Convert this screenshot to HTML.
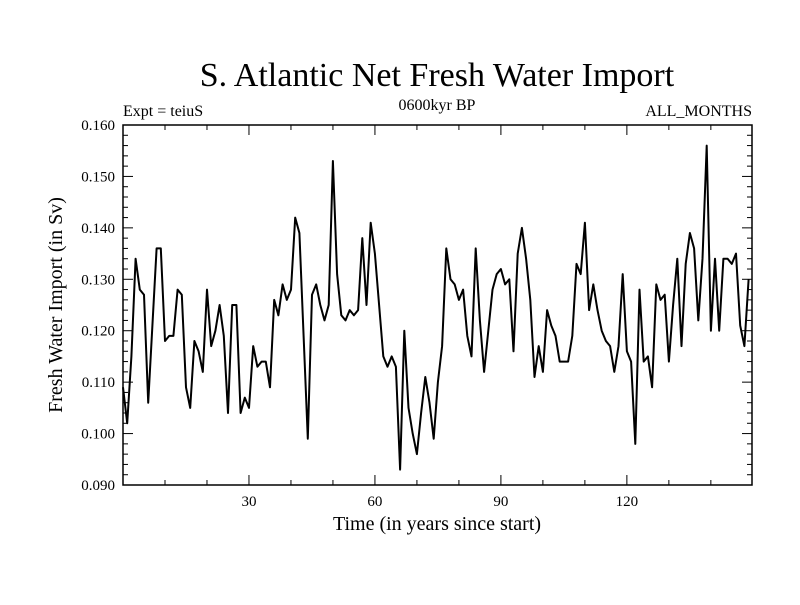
<!DOCTYPE html>
<html><head><meta charset="utf-8"><style>
body{margin:0;background:#fff}
svg text{font-family:"Liberation Serif",serif;fill:#000}
</style></head><body>
<svg id="chart" width="800" height="600" xmlns="http://www.w3.org/2000/svg">
<text x="437" y="86" font-size="34" text-anchor="middle">S. Atlantic Net Fresh Water Import</text>
<text x="123" y="116" font-size="16">Expt = teiuS</text>
<text x="437" y="110" font-size="16" text-anchor="middle">0600kyr BP</text>
<text x="752" y="116" font-size="16" text-anchor="end">ALL_MONTHS</text>
<text x="437" y="530" font-size="20" text-anchor="middle">Time (in years since start)</text>
<text transform="translate(62,305) rotate(-90)" font-size="20" text-anchor="middle">Fresh Water Import (in Sv)</text>
<g id="axes"></g>
<path id="series" fill="none" stroke="#000" stroke-width="2" stroke-linejoin="round"/>
<rect x="123" y="125" width="629" height="360" fill="none" stroke="#000" stroke-width="1.5"/>
</svg>
<script>
const values=[0.109,0.102,0.115,0.134,0.128,0.127,0.106,0.121,0.136,0.136,0.118,0.119,0.119,0.128,0.127,0.109,0.105,0.118,0.116,0.112,0.128,0.117,0.120,0.125,0.119,0.104,0.125,0.125,0.104,0.107,0.105,0.117,0.113,0.114,0.114,0.109,0.126,0.123,0.129,0.126,0.128,0.142,0.139,0.119,0.099,0.127,0.129,0.125,0.122,0.125,0.153,0.131,0.123,0.122,0.124,0.123,0.124,0.138,0.125,0.141,0.135,0.125,0.115,0.113,0.115,0.113,0.093,0.120,0.105,0.100,0.096,0.104,0.111,0.106,0.099,0.110,0.117,0.136,0.130,0.129,0.126,0.128,0.119,0.115,0.136,0.122,0.112,0.120,0.128,0.131,0.132,0.129,0.130,0.116,0.135,0.140,0.134,0.126,0.111,0.117,0.112,0.124,0.121,0.119,0.114,0.114,0.114,0.119,0.133,0.131,0.141,0.124,0.129,0.124,0.120,0.118,0.117,0.112,0.117,0.131,0.116,0.114,0.098,0.128,0.114,0.115,0.109,0.129,0.126,0.127,0.114,0.125,0.134,0.117,0.133,0.139,0.136,0.122,0.134,0.156,0.120,0.134,0.120,0.134,0.134,0.133,0.135,0.121,0.117,0.130];
const xTicks=[30,60,90,120];
const yTicks=[0.090,0.100,0.110,0.120,0.130,0.140,0.150,0.160];
const X0=123,X1=752,Y0=485,Y1=125,XMAX=149.8,YMIN=0.09,YMAX=0.16;
const sx=v=>X0+v/XMAX*(X1-X0);
const sy=v=>Y0-(v-YMIN)/(YMAX-YMIN)*(Y0-Y1);
const NS="http://www.w3.org/2000/svg";
const g=document.getElementById('axes');
function line(x1,y1,x2,y2,name){const l=document.createElementNS(NS,'line');l.setAttribute('x1',x1);l.setAttribute('y1',y1);l.setAttribute('x2',x2);l.setAttribute('y2',y2);l.setAttribute('stroke','#000');l.setAttribute('stroke-width','1');


g.appendChild(l);}
function txt(x,y,s,anchor,name){const t=document.createElementNS(NS,'text');t.setAttribute('x',x);t.setAttribute('y',y);t.setAttribute('font-size','15');t.setAttribute('text-anchor',anchor);t.textContent=s;


g.appendChild(t);}
for(let v=0;v<=XMAX;v+=10){const x=sx(v),big=v%30===0;const L=big?10:5;line(x,Y0,x,Y0-L,'x-tick');line(x,Y1,x,Y1+L,'x-tick-top');}
xTicks.forEach(v=>txt(sx(v),506,String(v),'middle','x-tick-label'));
for(let i=0;i<=35;i++){const v=YMIN+i*0.002,y=sy(v),big=i%5===0;const L=big?10:5;line(X0,y,X0+L,y,'y-tick');line(X1,y,X1-L,y,'y-tick-right');}
yTicks.forEach(v=>txt(115,sy(v)+5,v.toFixed(3),'end','y-tick-label'));
document.getElementById('series').setAttribute('d',values.map((v,i)=>(i?'L':'M')+sx(i).toFixed(1)+' '+sy(v).toFixed(1)).join(''));
</script>
</body></html>
